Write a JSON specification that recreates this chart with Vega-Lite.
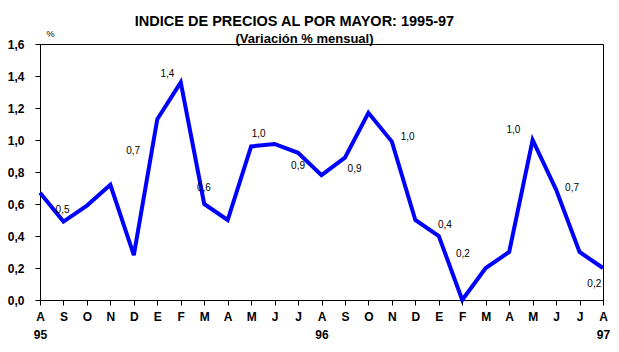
{
  "$schema": "https://vega.github.io/schema/vega-lite/v6.json",
  "autosize": "none",
  "width": 563,
  "height": 256,
  "padding": {"left": 40, "top": 44, "right": 16, "bottom": 52},
  "background": "white",
  "title": {
    "text": "INDICE DE PRECIOS AL POR MAYOR: 1995-97",
    "font": "Liberation Sans",
    "fontSize": 14.5,
    "fontWeight": "bold",
    "color": "black",
    "anchor": "middle",
    "dx": -27,
    "offset": -14,
    "baseline": "bottom"
  },
  "datasets": {
    "serie": [
      {"idx": 0, "valor": 0.67},
      {"idx": 1, "valor": 0.49},
      {"idx": 2, "valor": 0.59},
      {"idx": 3, "valor": 0.72},
      {"idx": 4, "valor": 0.28},
      {"idx": 5, "valor": 1.13},
      {"idx": 6, "valor": 1.36},
      {"idx": 7, "valor": 0.60},
      {"idx": 8, "valor": 0.50},
      {"idx": 9, "valor": 0.96},
      {"idx": 10, "valor": 0.975},
      {"idx": 11, "valor": 0.92},
      {"idx": 12, "valor": 0.78},
      {"idx": 13, "valor": 0.89},
      {"idx": 14, "valor": 1.17},
      {"idx": 15, "valor": 0.99},
      {"idx": 16, "valor": 0.50},
      {"idx": 17, "valor": 0.40},
      {"idx": 18, "valor": 0.00},
      {"idx": 19, "valor": 0.20},
      {"idx": 20, "valor": 0.30},
      {"idx": 21, "valor": 1.00},
      {"idx": 22, "valor": 0.69},
      {"idx": 23, "valor": 0.30},
      {"idx": 24, "valor": 0.20}
    ],
    "etiquetas": [
      {"idx": 0.96, "valor": 0.56, "texto": "0,5"},
      {"idx": 3.97, "valor": 0.93, "texto": "0,7"},
      {"idx": 5.43, "valor": 1.41, "texto": "1,4"},
      {"idx": 6.99, "valor": 0.70, "texto": "0,6"},
      {"idx": 9.32, "valor": 1.04, "texto": "1,0"},
      {"idx": 11.0, "valor": 0.84, "texto": "0,9"},
      {"idx": 13.41, "valor": 0.82, "texto": "0,9"},
      {"idx": 15.67, "valor": 1.02, "texto": "1,0"},
      {"idx": 17.26, "valor": 0.47, "texto": "0,4"},
      {"idx": 18.03, "valor": 0.29, "texto": "0,2"},
      {"idx": 20.18, "valor": 1.06, "texto": "1,0"},
      {"idx": 22.68, "valor": 0.70, "texto": "0,7"},
      {"idx": 23.63, "valor": 0.10, "texto": "0,2"}
    ]
  },
  "config": {
    "view": {"stroke": "black", "strokeWidth": 1},
    "axis": {
      "grid": false,
      "domainColor": "black",
      "tickColor": "black",
      "labelColor": "black",
      "titleColor": "black",
      "labelFont": "Liberation Sans",
      "titleFont": "Liberation Sans",
      "labelOverlap": false
    }
  },
  "encoding": {
    "x": {
      "field": "idx",
      "type": "quantitative",
      "scale": {"domain": [0, 24], "nice": false, "zero": false},
      "axis": {
        "values": [0,1,2,3,4,5,6,7,8,9,10,11,12,13,14,15,16,17,18,19,20,21,22,23,24],
        "labelExpr": "datum.value == 0 ? ['A','95'] : datum.value == 12 ? ['A','96'] : datum.value == 24 ? ['A','97'] : ['A','S','O','N','D','E','F','M','A','M','J','J'][datum.value % 12]",
        "labelFontSize": 12,
        "labelFontWeight": "bold",
        "labelLineHeight": 18,
        "labelBaseline": "top",
        "labelPadding": 6,
        "labelOverlap": false,
        "labelFlush": false,
        "tickSize": 5,
        "title": "(Variación % mensual)",
        "titleFontSize": 13,
        "titleFontWeight": "bold",
        "titleX": 264,
        "titleY": -262,
        "titleAnchor": "middle",
        "titleAlign": "center",
        "titleBaseline": "middle"
      }
    },
    "y": {
      "field": "valor",
      "type": "quantitative",
      "scale": {"domain": [0, 1.6], "nice": false},
      "axis": {
        "values": [0, 0.2, 0.4, 0.6, 0.8, 1.0, 1.2, 1.4, 1.6],
        "labelExpr": "replace(format(datum.value, '.1f'), '.', ',')",
        "labelFontSize": 12,
        "labelFontWeight": "bold",
        "labelPadding": 11,
        "labelOverlap": false,
        "tickSize": 5,
        "title": "%",
        "titleAngle": 0,
        "titleFontSize": 9,
        "titleFontWeight": "normal",
        "titleX": 10,
        "titleY": -11,
        "titleAlign": "center",
        "titleBaseline": "middle"
      }
    }
  },
  "layer": [
    {
      "data": {"name": "serie"},
      "mark": {"type": "line", "color": "#0000FF", "strokeWidth": 4, "strokeJoin": "miter", "clip": false}
    },
    {
      "data": {"name": "etiquetas"},
      "mark": {"type": "text", "font": "Liberation Sans", "fontSize": 10, "color": "black", "align": "center", "baseline": "middle"},
      "encoding": {
        "text": {"field": "texto"}
      }
    }
  ]
}
